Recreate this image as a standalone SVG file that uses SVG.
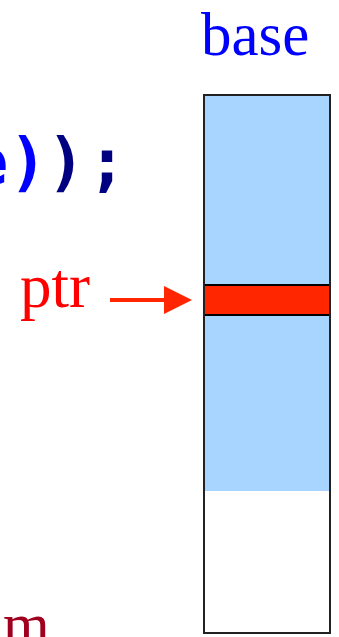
<svg xmlns="http://www.w3.org/2000/svg" width="339" height="637" viewBox="0 0 339 637">
<style>
.serif{font-family:"Liberation Serif","Times New Roman",serif}
.code{font-family:"DejaVu Sans Mono","Liberation Mono",monospace;font-weight:bold;font-size:64px;text-anchor:middle}
</style>
<defs>
<marker id="ah" markerWidth="7" markerHeight="7" refX="0" refY="3.5" orient="auto" markerUnits="strokeWidth">
<path d="M0,0 L7,3.5 L0,7 z" fill="#FF2600"/>
</marker>
</defs>
<rect width="339" height="637" fill="#fff"/>
<g id="code">
<text class="code" y="184"><tspan x="-11" fill="#0000FF">e</tspan><tspan x="28" fill="#0000FF">)</tspan><tspan x="66" fill="#000080">)</tspan><tspan x="107" fill="#000080">;</tspan></text>
</g>
<g id="base-label">
<text class="serif" x="201" y="55" font-size="61" fill="#0000FF">base</text>
</g>
<g id="memory">
<rect x="204" y="95" width="126" height="396" fill="#A8D5FF"/>
<rect x="204" y="285" width="126" height="30" fill="#FF2600" stroke="#000" stroke-width="2"/>
<rect x="204" y="95" width="126" height="538" fill="none" stroke="#222" stroke-width="2"/>
</g>
<g id="ptr-label">
<text class="serif" x="20" y="307" font-size="63" fill="#FF0000">ptr</text>
</g>
<g id="connectors">
<line x1="110" y1="300" x2="164" y2="300" stroke="#FF2600" stroke-width="4" marker-end="url(#ah)"/>
</g>
<g id="bottom-label">
<text class="serif" x="3" y="644" font-size="60" fill="#A0001F">m</text>
</g>
</svg>
